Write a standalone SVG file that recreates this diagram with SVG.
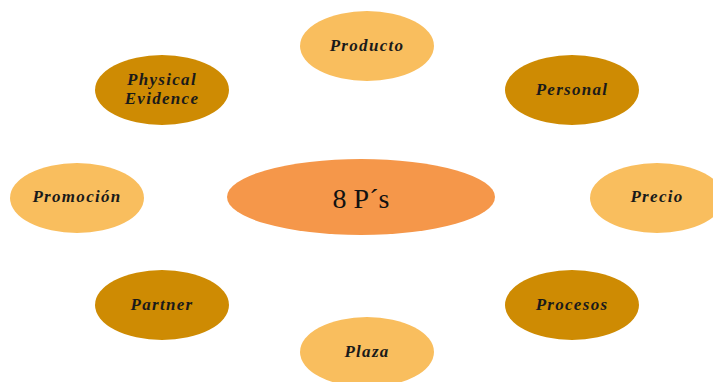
<svg xmlns="http://www.w3.org/2000/svg" width="713" height="382" viewBox="0 0 713 382">
  <style>
    .light { fill: #F9BE5E; }
    .dark { fill: #CE8B03; }
    .hub { fill: #F5974A; }
    .lbl { font-family: "Liberation Serif", "DejaVu Serif", serif; font-style: italic; font-weight: bold; font-size: 17px; letter-spacing: 1.3px; fill: #1a1a1a; text-anchor: middle; dominant-baseline: central; }
    .title { font-family: "Liberation Serif", "Times New Roman", serif; font-size: 28px; fill: #111; text-anchor: middle; dominant-baseline: central; }
  </style>
  <rect width="713" height="382" fill="#ffffff"/>
  <g id="connectors"></g>
  <g id="center">
    <ellipse class="hub" cx="361" cy="197" rx="134" ry="38"/>
    <text class="title" x="361" y="198">8 P´s</text>
  </g>
  <g id="producto">
    <ellipse class="light" cx="367" cy="46" rx="67" ry="35"/>
    <text class="lbl" x="367" y="45">Producto</text>
  </g>
  <g id="physical-evidence">
    <ellipse class="dark" cx="162" cy="90" rx="67" ry="35"/>
    <text class="lbl" x="162" y="79">Physical</text>
    <text class="lbl" x="162" y="98">Evidence</text>
  </g>
  <g id="personal">
    <ellipse class="dark" cx="572" cy="90" rx="67" ry="35"/>
    <text class="lbl" x="572" y="89">Personal</text>
  </g>
  <g id="promocion">
    <ellipse class="light" cx="77" cy="198" rx="67" ry="35"/>
    <text class="lbl" x="77" y="196">Promoción</text>
  </g>
  <g id="precio">
    <ellipse class="light" cx="657" cy="198" rx="67" ry="35"/>
    <text class="lbl" x="657" y="196">Precio</text>
  </g>
  <g id="partner">
    <ellipse class="dark" cx="162" cy="305" rx="67" ry="35"/>
    <text class="lbl" x="162" y="304">Partner</text>
  </g>
  <g id="procesos">
    <ellipse class="dark" cx="572" cy="305" rx="67" ry="35"/>
    <text class="lbl" x="572" y="304">Procesos</text>
  </g>
  <g id="plaza">
    <ellipse class="light" cx="367" cy="352" rx="67" ry="35"/>
    <text class="lbl" x="367" y="351">Plaza</text>
  </g>
</svg>
